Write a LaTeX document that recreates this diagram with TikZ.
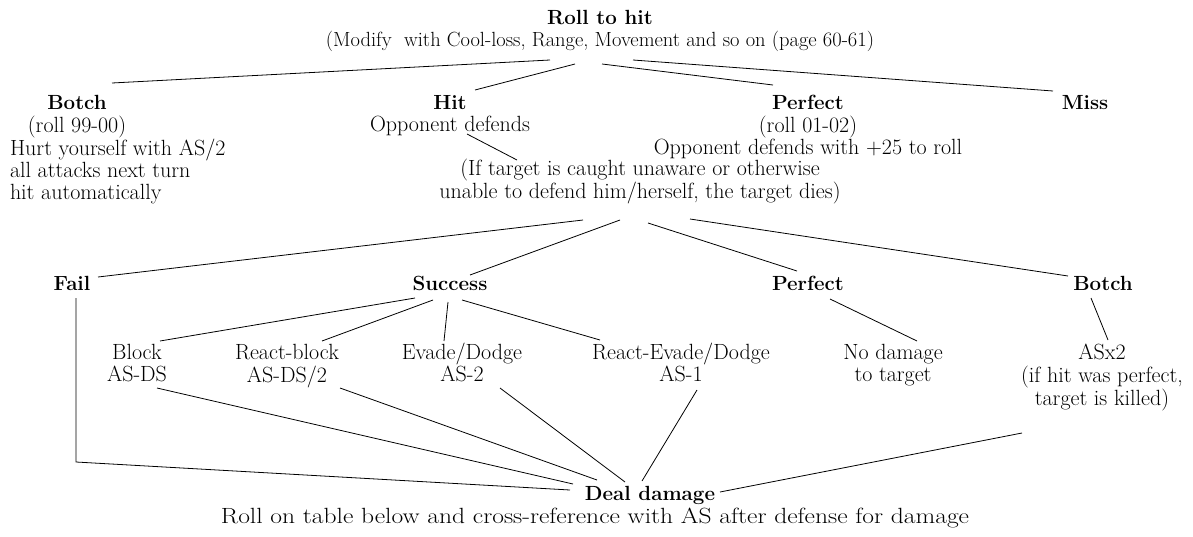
\documentclass[tikz,border=0pt]{standalone}
\usepackage{graphicx}
\usetikzlibrary{calc}
\begin{document}
\begin{tikzpicture}[x=1pt,y=1pt,
  txt/.style={inner sep=0pt,outer sep=0pt,anchor=base,font=\fontsize{22}{22}\selectfont},
  link/.style={line width=0.8pt,black}]
\useasboundingbox (0,0) rectangle (1193,-536);
\newcommand{\tb}[1]{\begin{tabular}[t]{@{}c@{}}#1\end{tabular}}
\newcommand{\B}[1]{{\fontsize{20.5}{22}\selectfont\bfseries #1}}
% level 0
\node[txt] (title) at (600,-24) {\fontsize{20.5}{22}\selectfont\tb{\textbf{Roll to hit}\\(Modify\ \ with Cool-loss, Range, Movement and so on (page 60-61)}};
% level 1
\node[txt,anchor=base west] (botchA) at (10,-109) {\begin{tabular}[t]{@{}l@{}}\makebox[134pt][c]{\B{Botch}}\\\makebox[134pt][c]{(roll 99-00)}\\Hurt yourself with AS/2\\all attacks next turn\\hit automatically\end{tabular}};
\node[txt] (hit) at (450,-109) {\tb{\B{Hit}\\Opponent defends}};
\node[txt] (perfA) at (808,-109) {\tb{\B{Perfect}\\(roll 01-02)\\Opponent defends with +25 to roll}};
\node[txt] (miss) at (1085,-109) {\B{Miss}};
\node[txt] (cond) at (640,-175) {\tb{(If target is caught unaware or otherwise\\unable to defend him/herself, the target dies)}};
% level 2
\node[txt] (fail) at (72,-290) {\B{Fail}};
\node[txt] (succ) at (450,-290) {\B{Success}};
\node[txt] (perfB) at (808,-290) {\B{Perfect}};
\node[txt] (botchB) at (1103,-290) {\B{Botch}};
% level 3
\node[txt] (block) at (137,-359) {\tb{Block\\AS-DS}};
\node[txt] (rblock) at (287,-359) {\tb{React-block\\AS-DS/2}};
\node[txt] (evade) at (462,-359) {\tb{Evade/Dodge\\AS-2}};
\node[txt] (revade) at (681,-359) {\tb{React-Evade/Dodge\\AS-1}};
\node[txt] (nodmg) at (893,-359) {\tb{No damage\\to target}};
\node[txt] (asx) at (1102,-359) {\tb{ASx2\\(if hit was perfect,\\target is killed)}};
% level 4
\node[txt] (deal) at (595,-500) {\tb{\hspace*{110pt}\B{Deal damage}\\[1pt]\scalebox{1.16}[1]{Roll on table below and cross-reference with AS after defense for damage}}};
% connectors
\draw[link] ([xshift=-50pt,yshift=-36pt]title.base) -- ([xshift=102pt,yshift=26pt]botchA.base west);
\draw[link] ([xshift=-25pt,yshift=-40pt]title.base) -- ([xshift=25pt,yshift=19pt]hit.base);
\draw[link] ([xshift=2pt,yshift=-40pt]title.base) -- ([xshift=-35pt,yshift=24pt]perfA.base);
\draw[link] ([xshift=33pt,yshift=-36pt]title.base) -- ([xshift=-32pt,yshift=18pt]miss.base);
\draw[link] ([xshift=17pt,yshift=-25pt]hit.base) -- ([xshift=-123pt,yshift=15pt]cond.base);
\draw[link] ([xshift=-57pt,yshift=-45pt]cond.base) -- ([xshift=26pt,yshift=13pt]fail.base);
\draw[link] ([xshift=-20pt,yshift=-45pt]cond.base) -- ([xshift=20pt,yshift=15pt]succ.base);
\draw[link] ([xshift=8pt,yshift=-48pt]cond.base) -- ([xshift=-11pt,yshift=19pt]perfB.base);
\draw[link] ([xshift=50pt,yshift=-44pt]cond.base) -- ([xshift=-35pt,yshift=14pt]botchB.base);
\draw[link] ([xshift=-35pt,yshift=-8pt]succ.base) -- ([xshift=23pt,yshift=18pt]block.base);
\draw[link] ([xshift=-17pt,yshift=-10pt]succ.base) -- ([xshift=35pt,yshift=18pt]rblock.base);
\draw[link] ([xshift=-2pt,yshift=-12pt]succ.base) -- ([xshift=-18pt,yshift=18pt]evade.base);
\draw[link] ([xshift=12pt,yshift=-10pt]succ.base) -- ([xshift=-81pt,yshift=19pt]revade.base);
\draw[link] ([xshift=22pt,yshift=-9pt]perfB.base) -- ([xshift=24pt,yshift=18pt]nodmg.base);
\draw[link] ([xshift=-12pt,yshift=-8pt]botchB.base) -- ([xshift=6pt,yshift=19pt]asx.base);
\draw[link] ([xshift=4pt,yshift=-8pt]fail.base) -- ++(0,-164) -- ([xshift=-25pt,yshift=10pt]deal.base);
\draw[link] ([xshift=20pt,yshift=-29pt]block.base) -- ([xshift=-22pt,yshift=16pt]deal.base);
\draw[link] ([xshift=53pt,yshift=-29pt]rblock.base) -- ([xshift=2pt,yshift=20pt]deal.base);
\draw[link] ([xshift=38pt,yshift=-29pt]evade.base) -- ([xshift=30pt,yshift=18pt]deal.base);
\draw[link] ([xshift=16pt,yshift=-31pt]revade.base) -- ([xshift=47pt,yshift=19pt]deal.base);
\draw[link] ([xshift=-80pt,yshift=-74pt]asx.base) -- ([xshift=125pt,yshift=8pt]deal.base);
\end{tikzpicture}
\end{document}
